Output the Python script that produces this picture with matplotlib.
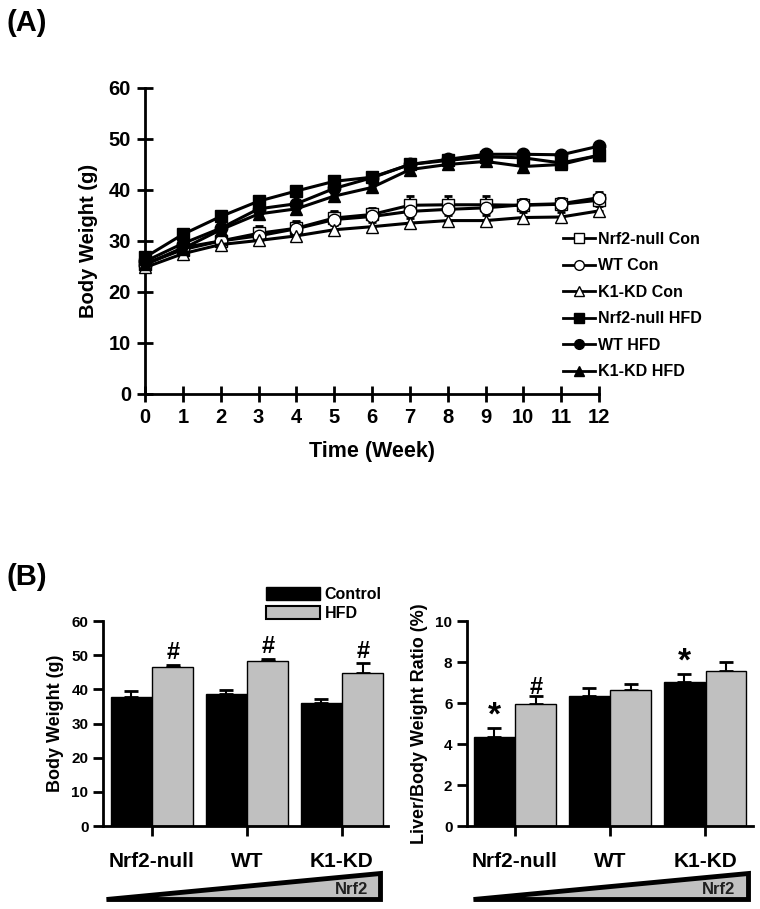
import numpy as np
import matplotlib
matplotlib.use("Agg")
import matplotlib.pyplot as plt
from matplotlib.patches import Polygon, Patch
from matplotlib.lines import Line2D

plt.rcParams['font.family'] = ['Liberation Sans', 'DejaVu Sans']
plt.rcParams['font.weight'] = 'bold'

# ---- (A) body weight over time ----
weeks = np.arange(13)
series_names = ["Nrf2-null Con", "WT Con", "K1-KD Con", "Nrf2-null HFD", "WT HFD", "K1-KD HFD"]
nrf2_con = [25.5, 28.3, 30.0, 31.5, 32.5, 34.5, 35.2, 37.0, 37.1, 37.1, 37.0, 37.2, 38.0]
wt_con = [25.3, 28.7, 30.0, 31.0, 32.4, 34.2, 34.8, 35.8, 36.2, 36.5, 37.1, 37.3, 38.5]
k1_con = [24.8, 27.5, 29.3, 30.1, 31.0, 32.2, 32.8, 33.5, 34.0, 34.0, 34.6, 34.7, 35.9]
nrf2_hfd = [26.8, 31.3, 34.8, 37.8, 39.8, 41.7, 42.5, 45.0, 45.8, 46.5, 46.3, 45.3, 46.8]
wt_hfd = [26.0, 29.5, 32.5, 36.3, 37.3, 40.3, 42.4, 45.0, 46.0, 47.0, 47.0, 46.9, 48.6]
k1_hfd = [25.5, 28.5, 32.2, 35.3, 36.3, 38.8, 40.5, 44.0, 45.0, 45.6, 44.6, 45.0, 46.8]
nrf2_con_err = [0.5, 0.6, 0.8, 1.5, 1.2, 1.3, 1.3, 1.8, 1.8, 1.8, 1.3, 1.2, 1.3]
wt_con_err = [0.5, 0.5, 0.6, 0.8, 1.6, 1.5, 1.4, 1.2, 1.2, 1.2, 1.0, 1.0, 1.2]
k1_con_err = [0.5, 0.5, 0.6, 0.7, 0.8, 0.9, 0.9, 1.0, 1.0, 1.0, 1.0, 0.9, 0.9]
hfd_err = [0.6] * 13

# ---- (B) end-point bars ----
groups = ["Nrf2-null", "WT", "K1-KD"]
bw_control = [37.9, 38.6, 36.0]
bw_control_err = [1.7, 1.1, 1.2]
bw_hfd = [46.5, 48.4, 44.8]
bw_hfd_err = [0.6, 0.6, 2.8]
bw_marks = ["", "", ""]
bw_hfd_marks = ["#", "#", "#"]
lr_control = [4.36, 6.34, 7.04]
lr_control_err = [0.40, 0.41, 0.36]
lr_hfd = [5.95, 6.62, 7.58]
lr_hfd_err = [0.41, 0.31, 0.40]
lr_marks = ["*", "", "*"]
lr_hfd_marks = ["#", "", ""]

fig = plt.figure(figsize=(7.6, 9.09), dpi=100)

# ---------- panel A ----------
ax = fig.add_axes([0.1908, 0.5666, 0.5974, 0.3366])
styles = [
    (nrf2_con, nrf2_con_err, 's', 'white'),
    (wt_con, wt_con_err, 'o', 'white'),
    (k1_con, k1_con_err, '^', 'white'),
    (nrf2_hfd, hfd_err, 's', 'black'),
    (wt_hfd, hfd_err, 'o', 'black'),
    (k1_hfd, hfd_err, '^', 'black'),
]
handles = []
for (vals, err, mk, fc), name in zip(styles, series_names):
    vals = np.array(vals)
    ax.errorbar(weeks, vals, yerr=[np.zeros(13), err], fmt='none', ecolor='black',
                elinewidth=1.5, capsize=3, capthick=2, zorder=2, clip_on=False)
    ax.plot(weeks, vals, color='black', lw=2.2, marker=mk, ms=9, mfc=fc, mec='black',
            mew=1, zorder=3, clip_on=False)
    handles.append(Line2D([], [], color='black', lw=2, marker=mk, ms=7, mfc=fc,
                          mec='black', mew=1, label=name))

ax.set_xlim(0, 12)
ax.set_ylim(0, 60)
ax.set_xticks(weeks)
ax.set_yticks(np.arange(0, 61, 10))
for s in ['top', 'right']:
    ax.spines[s].set_visible(False)
for s in ['left', 'bottom']:
    ax.spines[s].set_linewidth(2)
ax.tick_params(direction='inout', length=12, width=2, labelsize=14.5, pad=4)
for lab in ax.get_xticklabels() + ax.get_yticklabels():
    lab.set_fontweight('bold')
ax.set_xlabel("Time (Week)", fontsize=15.5, fontweight='bold', labelpad=10)
ax.set_ylabel("Body Weight (g)", fontsize=14.5, fontweight='bold', labelpad=8)

fig.legend(handles=handles, loc='upper left', bbox_to_anchor=(0.722, 0.761),
           frameon=False, handlelength=2.0, handletextpad=0.2,
           labelspacing=0.72, prop={'weight': 'bold', 'size': 11.5})

fig.text(0.008, 0.975, "(A)", fontsize=21, fontweight='bold', va='center')
fig.text(0.008, 0.365, "(B)", fontsize=21, fontweight='bold', va='center')

# ---------- panel B ----------
x = np.arange(len(groups))
w = 0.43


def bar_panel(rect, ctrl, ctrl_err, hfd, hfd_err, ylim, yticks, ylabel, ctrl_marks, hfd_marks, gap, xlim):
    a = fig.add_axes(rect)
    a.bar(x - 0.22, ctrl, w, color='black', edgecolor='black', lw=1, zorder=2)
    a.bar(x + 0.22, hfd, w, color='#c0c0c0', edgecolor='black', lw=1, zorder=2)
    a.errorbar(x - 0.22, ctrl, yerr=[np.zeros(3), ctrl_err], fmt='none', ecolor='black',
               elinewidth=1.5, capsize=5, capthick=2, zorder=1)
    a.errorbar(x + 0.22, hfd, yerr=[np.zeros(3), hfd_err], fmt='none', ecolor='black',
               elinewidth=1.5, capsize=5, capthick=2, zorder=1)
    for xs, vals, errs, marks in [(x - 0.22, ctrl, ctrl_err, ctrl_marks),
                                  (x + 0.22, hfd, hfd_err, hfd_marks)]:
        for xi, v, e, m in zip(xs, vals, errs, marks):
            if m:
                a.text(xi, v + e + gap, m, ha='center', va='bottom',
                       fontsize=24 if m == '*' else 17, fontweight='bold')
    a.set_xlim(*xlim)
    a.set_ylim(*ylim)
    a.set_yticks(yticks)
    a.set_xticks(x)
    a.set_xticklabels(groups, fontsize=15, fontweight='bold')
    for s in ['top', 'right']:
        a.spines[s].set_visible(False)
    for s in ['left', 'bottom']:
        a.spines[s].set_linewidth(2)
    a.tick_params(axis='y', direction='out', length=7, width=2, labelsize=11)
    a.tick_params(axis='x', direction='out', length=7, width=2, pad=12)
    for lab in a.get_yticklabels():
        lab.set_fontweight('bold')
    a.set_ylabel(ylabel, fontsize=13, fontweight='bold', labelpad=5)
    return a


axl = bar_panel([0.1355, 0.0913, 0.375, 0.2255], bw_control, bw_control_err, bw_hfd, bw_hfd_err,
                (0, 60), np.arange(0, 61, 10), "Body Weight (g)", bw_marks, bw_hfd_marks, 0.2,
                (-0.516, 2.484))
axr = bar_panel([0.6145, 0.0913, 0.3763, 0.2255], lr_control, lr_control_err, lr_hfd, lr_hfd_err,
                (0, 10), np.arange(0, 11, 2), "Liver/Body Weight Ratio (%)", lr_marks, lr_hfd_marks, -0.15,
                (-0.505, 2.505))

axl.legend(handles=[Patch(facecolor='black', edgecolor='black', label='Control'),
                    Patch(facecolor='#c0c0c0', edgecolor='black', lw=1.5, label='HFD')],
           loc='lower left', bbox_to_anchor=(0.52, 0.93), frameon=False,
           handlelength=3.4, handleheight=0.85, handletextpad=0.3, labelspacing=0.25,
           prop={'weight': 'bold', 'size': 11.5})

# Nrf2 wedges under bar panels
for left, width in [(0.139, 0.361), (0.622, 0.362)]:
    wa = fig.add_axes([left, 0.0105, width, 0.029])
    wa.set_xlim(0, 1)
    wa.set_ylim(0, 1)
    wa.axis('off')
    wa.add_patch(Polygon([[0, 0], [1, 0], [1, 1]], closed=True, facecolor='#c0c0c0',
                         edgecolor='black', lw=3.5, joinstyle='miter', clip_on=False))
    wa.text(0.895, 0.36, "Nrf2", ha='center', va='center', fontsize=12, fontweight='bold',
            color='#202020')

fig.savefig("out.png", dpi=100)
